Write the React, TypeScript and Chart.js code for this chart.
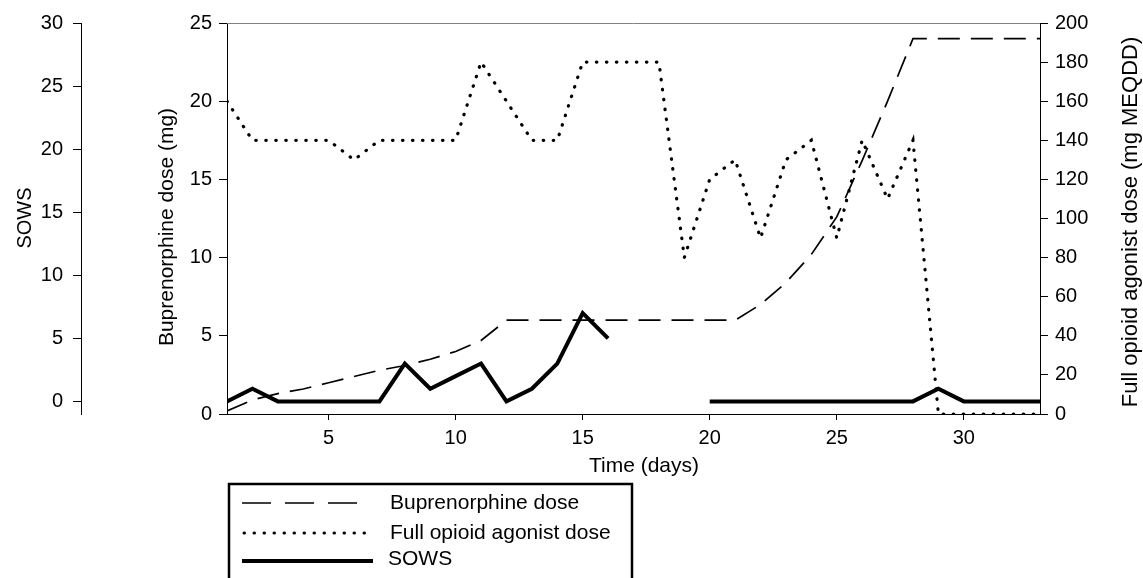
import React, { useEffect, useRef } from 'react';
import { Chart, registerables } from 'chart.js';

Chart.register(...registerables);

const days = [1, 2, 3, 4, 5, 6, 7, 8, 9, 10, 11, 12, 13, 14, 15, 16, 17, 18, 19, 20, 21, 22, 23, 24, 25, 26, 27, 28, 29, 30, 31, 32, 33];
const buprenorphine = [0.2, 0.9, 1.3, 1.6, 2.0, 2.4, 2.8, 3.1, 3.5, 4.0, 4.7, 6, 6, 6, 6, 6, 6, 6, 6, 6, 6, 7.0, 8.4, 10.2, 12.6, 16.2, 20.0, 24, 24, 24, 24, 24, 24];
const fullAgonist = [160, 140, 140, 140, 140, 130, 140, 140, 140, 140, 180, 160, 140, 140, 180, 180, 180, 180, 80, 120, 130, 90, 130, 140, 90, 140, 110, 140, 0, 0, 0, 0, 0];
const sows: (number | null)[] = [0, 1, 0, 0, 0, 0, 0, 3, 1, 2, 3, 0, 1, 3, 7, 5, null, null, null, 0, 0, 0, 0, 0, 0, 0, 0, 0, 1, 0, 0, 0, 0];

const xTicks = [5, 10, 15, 20, 25, 30];
const sowsTicks = [0, 5, 10, 15, 20, 25, 30];
const buprTicks = [0, 5, 10, 15, 20, 25];
const agonistTicks = [0, 20, 40, 60, 80, 100, 120, 140, 160, 180, 200];

const seriesNames = ['Buprenorphine dose', 'Full opioid agonist dose', 'SOWS'];
const axisTitles = {
  sows: 'SOWS',
  bupr: 'Buprenorphine dose (mg)',
  agonist: 'Full opioid agonist dose (mg MEQDD)',
  x: 'Time (days)',
};

const FONT = "'Liberation Sans', Arial, sans-serif";

const toPoints = (arr: (number | null)[]) => days.map((d, i) => ({ x: d, y: arr[i] }));

const axisCommon = (tickLength: number, padding: number) => ({
  grid: { display: true, drawOnChartArea: false, drawTicks: true, tickLength, color: '#000', lineWidth: 1 },
  border: { display: true, color: '#000', width: 1 },
  ticks: { color: '#000', font: { family: FONT, size: 20 }, padding },
});

const decorPlugin = {
  id: 'decor',
  afterDraw(chart: any) {
    const ctx: CanvasRenderingContext2D = chart.ctx;
    const ca = chart.chartArea;
    ctx.save();
    // top frame line
    ctx.strokeStyle = '#808080';
    ctx.lineWidth = 1;
    ctx.beginPath();
    ctx.moveTo(ca.left, ca.top + 0.5);
    ctx.lineTo(ca.right, ca.top + 0.5);
    ctx.stroke();

    ctx.fillStyle = '#000';
    ctx.textAlign = 'center';
    ctx.textBaseline = 'middle';
    const rot = (text: string, x: number, y: number, size: number) => {
      ctx.save();
      ctx.translate(x, y);
      ctx.rotate(-Math.PI / 2);
      ctx.font = `${size}px ${FONT}`;
      ctx.fillText(text, 0, 0);
      ctx.restore();
    };
    rot(axisTitles.sows, 25, 218, 20);
    rot(axisTitles.bupr, 167, 227, 21);
    rot(axisTitles.agonist, 1131, 222, 22);
    ctx.font = `21px ${FONT}`;
    ctx.fillText(axisTitles.x, 644, 466);

    // legend box
    ctx.strokeStyle = '#000';
    ctx.lineWidth = 2.5;
    ctx.strokeRect(229, 484, 403, 130);
    const x0 = 242;
    ctx.lineWidth = 1.6;
    ctx.setLineDash([29, 14]);
    ctx.beginPath(); ctx.moveTo(x0, 503); ctx.lineTo(x0 + 29 * 3 + 14 * 2, 503); ctx.stroke();
    ctx.lineWidth = 3;
    ctx.lineCap = 'round';
    ctx.setLineDash([0.5, 9.5]);
    ctx.beginPath(); ctx.moveTo(x0 + 2, 533); ctx.lineTo(366, 533); ctx.stroke();
    ctx.lineCap = 'butt';
    ctx.setLineDash([]);
    ctx.lineWidth = 4;
    ctx.beginPath(); ctx.moveTo(x0, 561); ctx.lineTo(373, 561); ctx.stroke();

    ctx.textAlign = 'left';
    ctx.font = `21px ${FONT}`;
    ctx.fillText(seriesNames[0], 390, 503);
    ctx.fillText(seriesNames[1], 390, 533);
    ctx.fillText(seriesNames[2], 388, 559);
    ctx.restore();
  },
};

export default function App() {
  const ref = useRef<HTMLCanvasElement | null>(null);
  useEffect(() => {
    if (!ref.current) return;
    const chart = new Chart(ref.current, {
      type: 'line',
      data: {
        datasets: [
          {
            label: seriesNames[0],
            data: toPoints(buprenorphine),
            yAxisID: 'yBup',
            borderColor: '#000',
            borderWidth: 1.7,
            borderDash: [22, 11],
            pointRadius: 0,
            fill: false,
            tension: 0,
          },
          {
            label: seriesNames[1],
            data: toPoints(fullAgonist),
            yAxisID: 'yAg',
            borderColor: '#000',
            borderWidth: 3.2,
            borderDash: [0.5, 9.5],
            borderCapStyle: 'round',
            pointRadius: 0,
            fill: false,
            tension: 0,
          },
          {
            label: seriesNames[2],
            data: toPoints(sows),
            yAxisID: 'ySows',
            borderColor: '#000',
            borderWidth: 4,
            pointRadius: 0,
            fill: false,
            spanGaps: false,
            tension: 0,
          },
        ],
      },
      options: {
        animation: false,
        responsive: false,
        maintainAspectRatio: false,
        layout: { padding: { top: 23, left: 0, right: 0, bottom: 0 } },
        plugins: { legend: { display: false }, tooltip: { enabled: false } },
        scales: {
          x: {
            type: 'linear',
            position: 'bottom',
            min: 1,
            max: 33,
            afterBuildTicks: (s: any) => { s.ticks = xTicks.map((v) => ({ value: v })); },
            afterFit: (s: any) => { s.height = 164; },
            ...axisCommon(6, 6),
            ticks: { color: '#000', font: { family: FONT, size: 20 }, padding: 6, maxRotation: 0, autoSkip: false },
          },
          ySows: {
            type: 'linear',
            position: 'left',
            weight: 2,
            min: -1,
            max: 30,
            afterBuildTicks: (s: any) => { s.ticks = sowsTicks.map((v) => ({ value: v })); },
            afterFit: (s: any) => { s.width = 81; },
            ...axisCommon(8, 10),
          },
          yBup: {
            type: 'linear',
            position: 'left',
            weight: 1,
            min: 0,
            max: 25,
            afterBuildTicks: (s: any) => { s.ticks = buprTicks.map((v) => ({ value: v })); },
            afterFit: (s: any) => { s.width = 146; },
            ...axisCommon(8, 7),
          },
          yAg: {
            type: 'linear',
            position: 'right',
            min: 0,
            max: 200,
            afterBuildTicks: (s: any) => { s.ticks = agonistTicks.map((v) => ({ value: v })); },
            afterFit: (s: any) => { s.width = 103; },
            ...axisCommon(8, 7),
          },
        },
      },
      plugins: [decorPlugin],
    } as any);
    return () => chart.destroy();
  }, []);

  return (
    <div style={{ position: 'fixed', left: 0, top: 0, width: 1143, height: 578, background: '#fff' }}>
      <canvas ref={ref} width={1143} height={578} style={{ display: 'block', width: 1143, height: 578 }} />
    </div>
  );
}
